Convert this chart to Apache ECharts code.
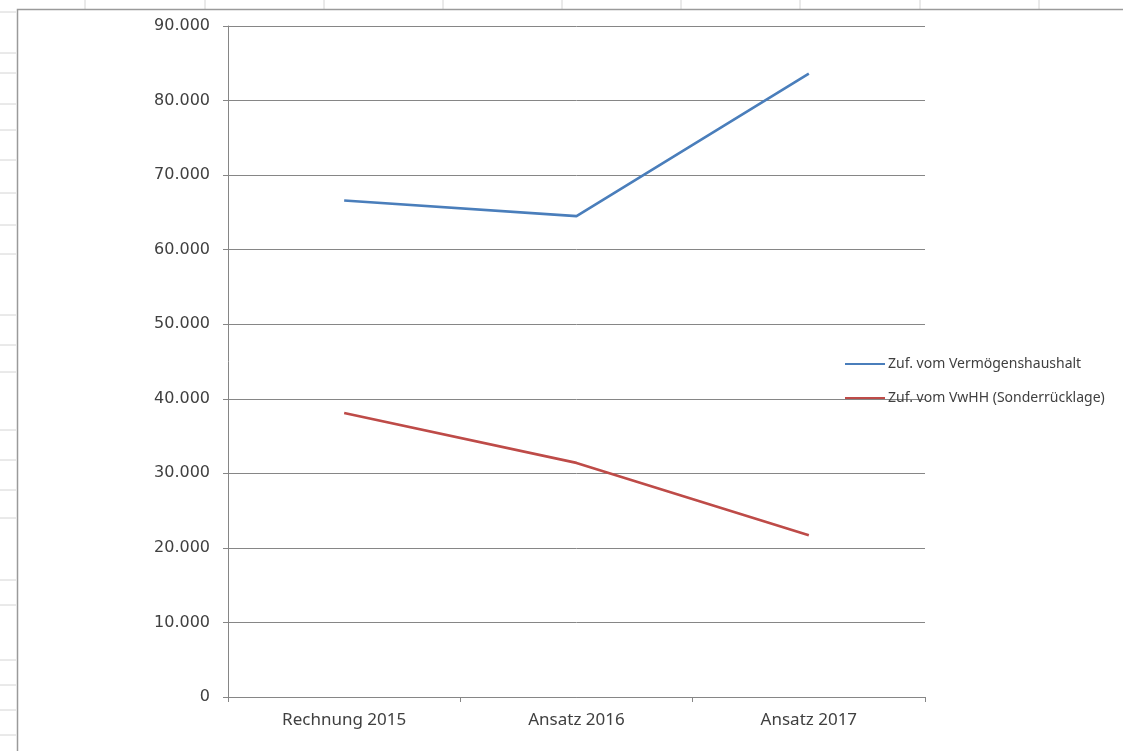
<!DOCTYPE html>
<html>
<head>
<meta charset="utf-8">
<script src="https://cdn.jsdelivr.net/npm/echarts@6/dist/echarts.min.js"></script>
<style>
html,body{margin:0;padding:0;background:#fff;}
#c{width:1123px;height:751px;}
</style>
</head>
<body>
<div id="c"></div>
<script>
const categories = ['Rechnung 2015', 'Ansatz 2016', 'Ansatz 2017'];
const seriesNames = ['Zuf. vom Vermögenshaushalt', 'Zuf. vom VwHH (Sonderrücklage)'];
const vermoegenshaushalt = [66600, 64500, 83600];
const sonderruecklage = [38100, 31400, 21700];
const yTicks = { min: 0, max: 90000, interval: 10000 };

const chart = echarts.init(document.getElementById('c'));

// spreadsheet background decoration (cell borders outside the chart area)
const deco = [];
const colX = [85, 205, 324, 443, 562, 681, 800, 920, 1039];
colX.forEach(x => deco.push({type:'line', shape:{x1:x,y1:0,x2:x,y2:9}, style:{stroke:'#d4d4d4',lineWidth:1}, silent:true}));
const rowY = [12, 53, 73, 104, 130, 160, 193, 225, 254, 315, 345, 372, 430, 460, 490, 518, 580, 605, 660, 685, 710, 735];
rowY.forEach(y => deco.push({type:'line', shape:{x1:0,y1:y,x2:16,y2:y}, style:{stroke:'#d4d4d4',lineWidth:1}, silent:true}));
deco.push({type:'polyline', shape:{points:[[17.5,751],[17.5,9.5],[1123,9.5]]}, style:{stroke:'#9a9a9a',lineWidth:1.5,fill:null}, silent:true});

const fmt = v => v === 0 ? '0' : v.toLocaleString('de-DE');

chart.setOption({
  animation: false,
  backgroundColor: '#ffffff',
  graphic: deco,
  grid: { left: 228, right: 198, top: 26, bottom: 54, containLabel: false },
  legend: {
    orient: 'vertical',
    left: 840,
    top: 352,
    itemWidth: 40,
    itemHeight: 2,
    itemGap: 20,
    icon: 'rect',
    textStyle: { fontFamily: 'Noto Sans', fontSize: 14, color: '#404040', padding: [0, 0, 0, -2] },
    data: seriesNames
  },
  xAxis: {
    type: 'category',
    data: categories,
    boundaryGap: true,
    axisLine: { lineStyle: { color: '#868686', width: 1 } },
    axisTick: { show: true, length: 5, inside: false, lineStyle: { color: '#868686' } },
    axisLabel: { fontFamily: 'Noto Sans', fontSize: 17, color: '#404040', margin: 15 },
    splitLine: { show: false }
  },
  yAxis: {
    type: 'value',
    min: yTicks.min, max: yTicks.max, interval: yTicks.interval,
    axisLine: { show: true, lineStyle: { color: '#868686', width: 1 } },
    axisTick: { show: true, length: 5, lineStyle: { color: '#868686' } },
    axisLabel: { fontFamily: 'DejaVu Sans', fontSize: 16, color: '#404040', margin: 18, formatter: fmt },
    splitLine: { show: true, lineStyle: { color: '#868686', width: 1 } }
  },
  series: [
    { name: seriesNames[0], type: 'line', data: vermoegenshaushalt, symbol: 'none',
      lineStyle: { color: '#4a7ebb', width: 2.6 }, itemStyle: { color: '#4a7ebb' } },
    { name: seriesNames[1], type: 'line', data: sonderruecklage, symbol: 'none',
      lineStyle: { color: '#be4b48', width: 2.6 }, itemStyle: { color: '#be4b48' } }
  ]
});
</script>
</body>
</html>
